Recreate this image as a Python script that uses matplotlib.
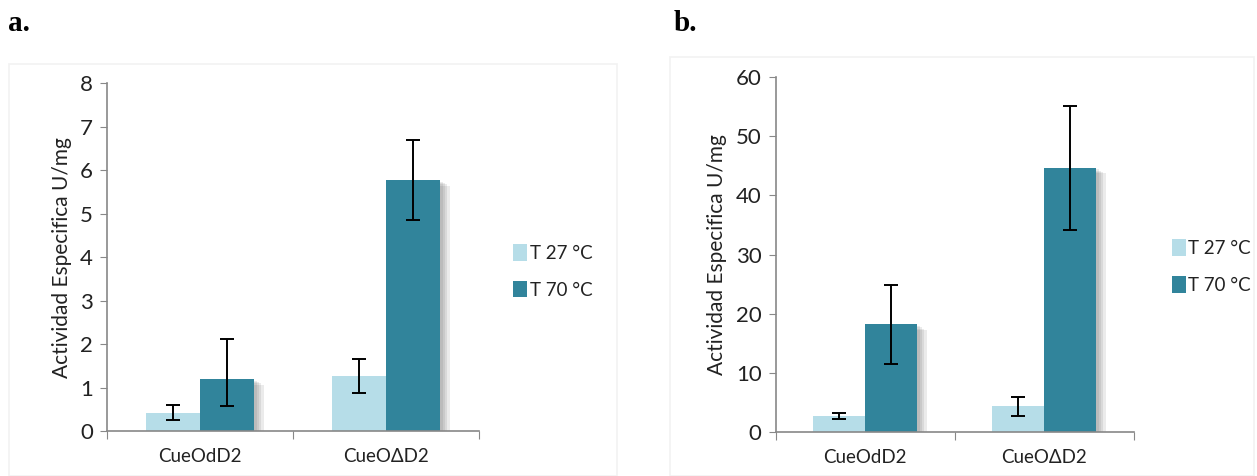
import matplotlib.pyplot as plt
import matplotlib.patheffects as pe
from matplotlib.patches import Rectangle
import numpy as np

plt.rcParams['font.family'] = ['Lato', 'DejaVu Sans']

# muestras y series
muestras = ['CueOdD2', 'CueOΔD2']
series = ['T 27 °C', 'T 70 °C']
colores = ['#b6dde8', '#31849b']

# panel a
act_a = [[0.43, 1.27], [1.20, 5.78]]
err_a_inf = [[0.18, 0.39], [0.62, 0.93]]
err_a_sup = [[0.17, 0.38], [0.92, 0.92]]

# panel b
act_b = [[2.8, 4.4], [18.2, 44.7]]
err_b_inf = [[0.5, 1.6], [6.7, 10.6]]
err_b_sup = [[0.5, 1.5], [6.6, 10.5]]

fig = plt.figure(figsize=(12.57, 4.76), dpi=100)

# marcos del area de grafico
for x0, y0, w, h in [(0.007, 0.0, 0.484, 0.865), (0.533, 0.0, 0.465, 0.88)]:
    fig.patches.append(Rectangle((x0, y0), w, h, transform=fig.transFigure,
                                 fill=False, edgecolor='#f2f2f2', linewidth=1.2))

fig.text(0.006, 0.935, 'a.', fontsize=21, fontweight='bold', family='Liberation Serif')
fig.text(0.536, 0.935, 'b.', fontsize=21, fontweight='bold', family='Liberation Serif')

# sombra difusa a la derecha de cada barra
sombra = [pe.SimplePatchShadow(offset=(d, -d * 0.6), shadow_rgbFace='#444444', alpha=0.10)
          for d in (7, 5, 3.5, 2)] + [pe.Normal()]


def panel(rect, act, inf, sup, ymax, paso, leg_pos):
    ax = fig.add_axes(rect)
    x = np.arange(len(muestras))
    ancho = 0.29
    for k in range(2):
        pos = x + (k - 0.5) * ancho
        barras = ax.bar(pos, act[k], ancho, color=colores[k], label=series[k], zorder=2)
        for b in barras:
            b.set_path_effects(sombra)
        ax.errorbar(pos, act[k], yerr=[inf[k], sup[k]], fmt='none', ecolor='black',
                    elinewidth=1.4, capsize=5, capthick=1.4, zorder=3)
    ax.set_xlim(-0.5, 1.5)
    ax.set_ylim(0, ymax)
    ax.set_yticks(np.arange(0, ymax + paso / 2, paso))
    ax.set_xticks([-0.5, 0.5, 1.5])
    ax.set_xticklabels([])
    ax.set_xticks(x, minor=True)
    ax.set_xticklabels(muestras, minor=True)
    ax.tick_params(axis='x', which='minor', length=0, pad=12, labelsize=13.5, labelcolor='#222222')
    ax.tick_params(axis='x', which='major', length=6, color='#888888', direction='out')
    ax.tick_params(axis='y', length=5, color='#888888', labelsize=16, labelcolor='#222222', pad=5)
    for s in ['top', 'right']:
        ax.spines[s].set_visible(False)
    for s in ['left', 'bottom']:
        ax.spines[s].set_color('#888888')
        ax.spines[s].set_linewidth(1.2)
    ax.set_ylabel('Actividad Especifica U/mg', fontsize=15, color='#222222', labelpad=6)
    leg = fig.legend(*ax.get_legend_handles_labels(), loc='center left', bbox_to_anchor=leg_pos,
                     frameon=False, fontsize=13.5, handlelength=0.75, handleheight=1.0,
                     handletextpad=0.15, labelspacing=1.0, labelcolor='#222222',
                     borderpad=0, borderaxespad=0)
    for h in leg.legend_handles:
        h.set_path_effects([])
    return ax


panel([0.085, 0.094, 0.296, 0.731], act_a, err_a_inf, err_a_sup, 8, 1, (0.408, 0.43))
panel([0.617, 0.092, 0.285, 0.746], act_b, err_b_inf, err_b_sup, 60, 10, (0.932, 0.44))

fig.savefig('out.png', dpi=100)
